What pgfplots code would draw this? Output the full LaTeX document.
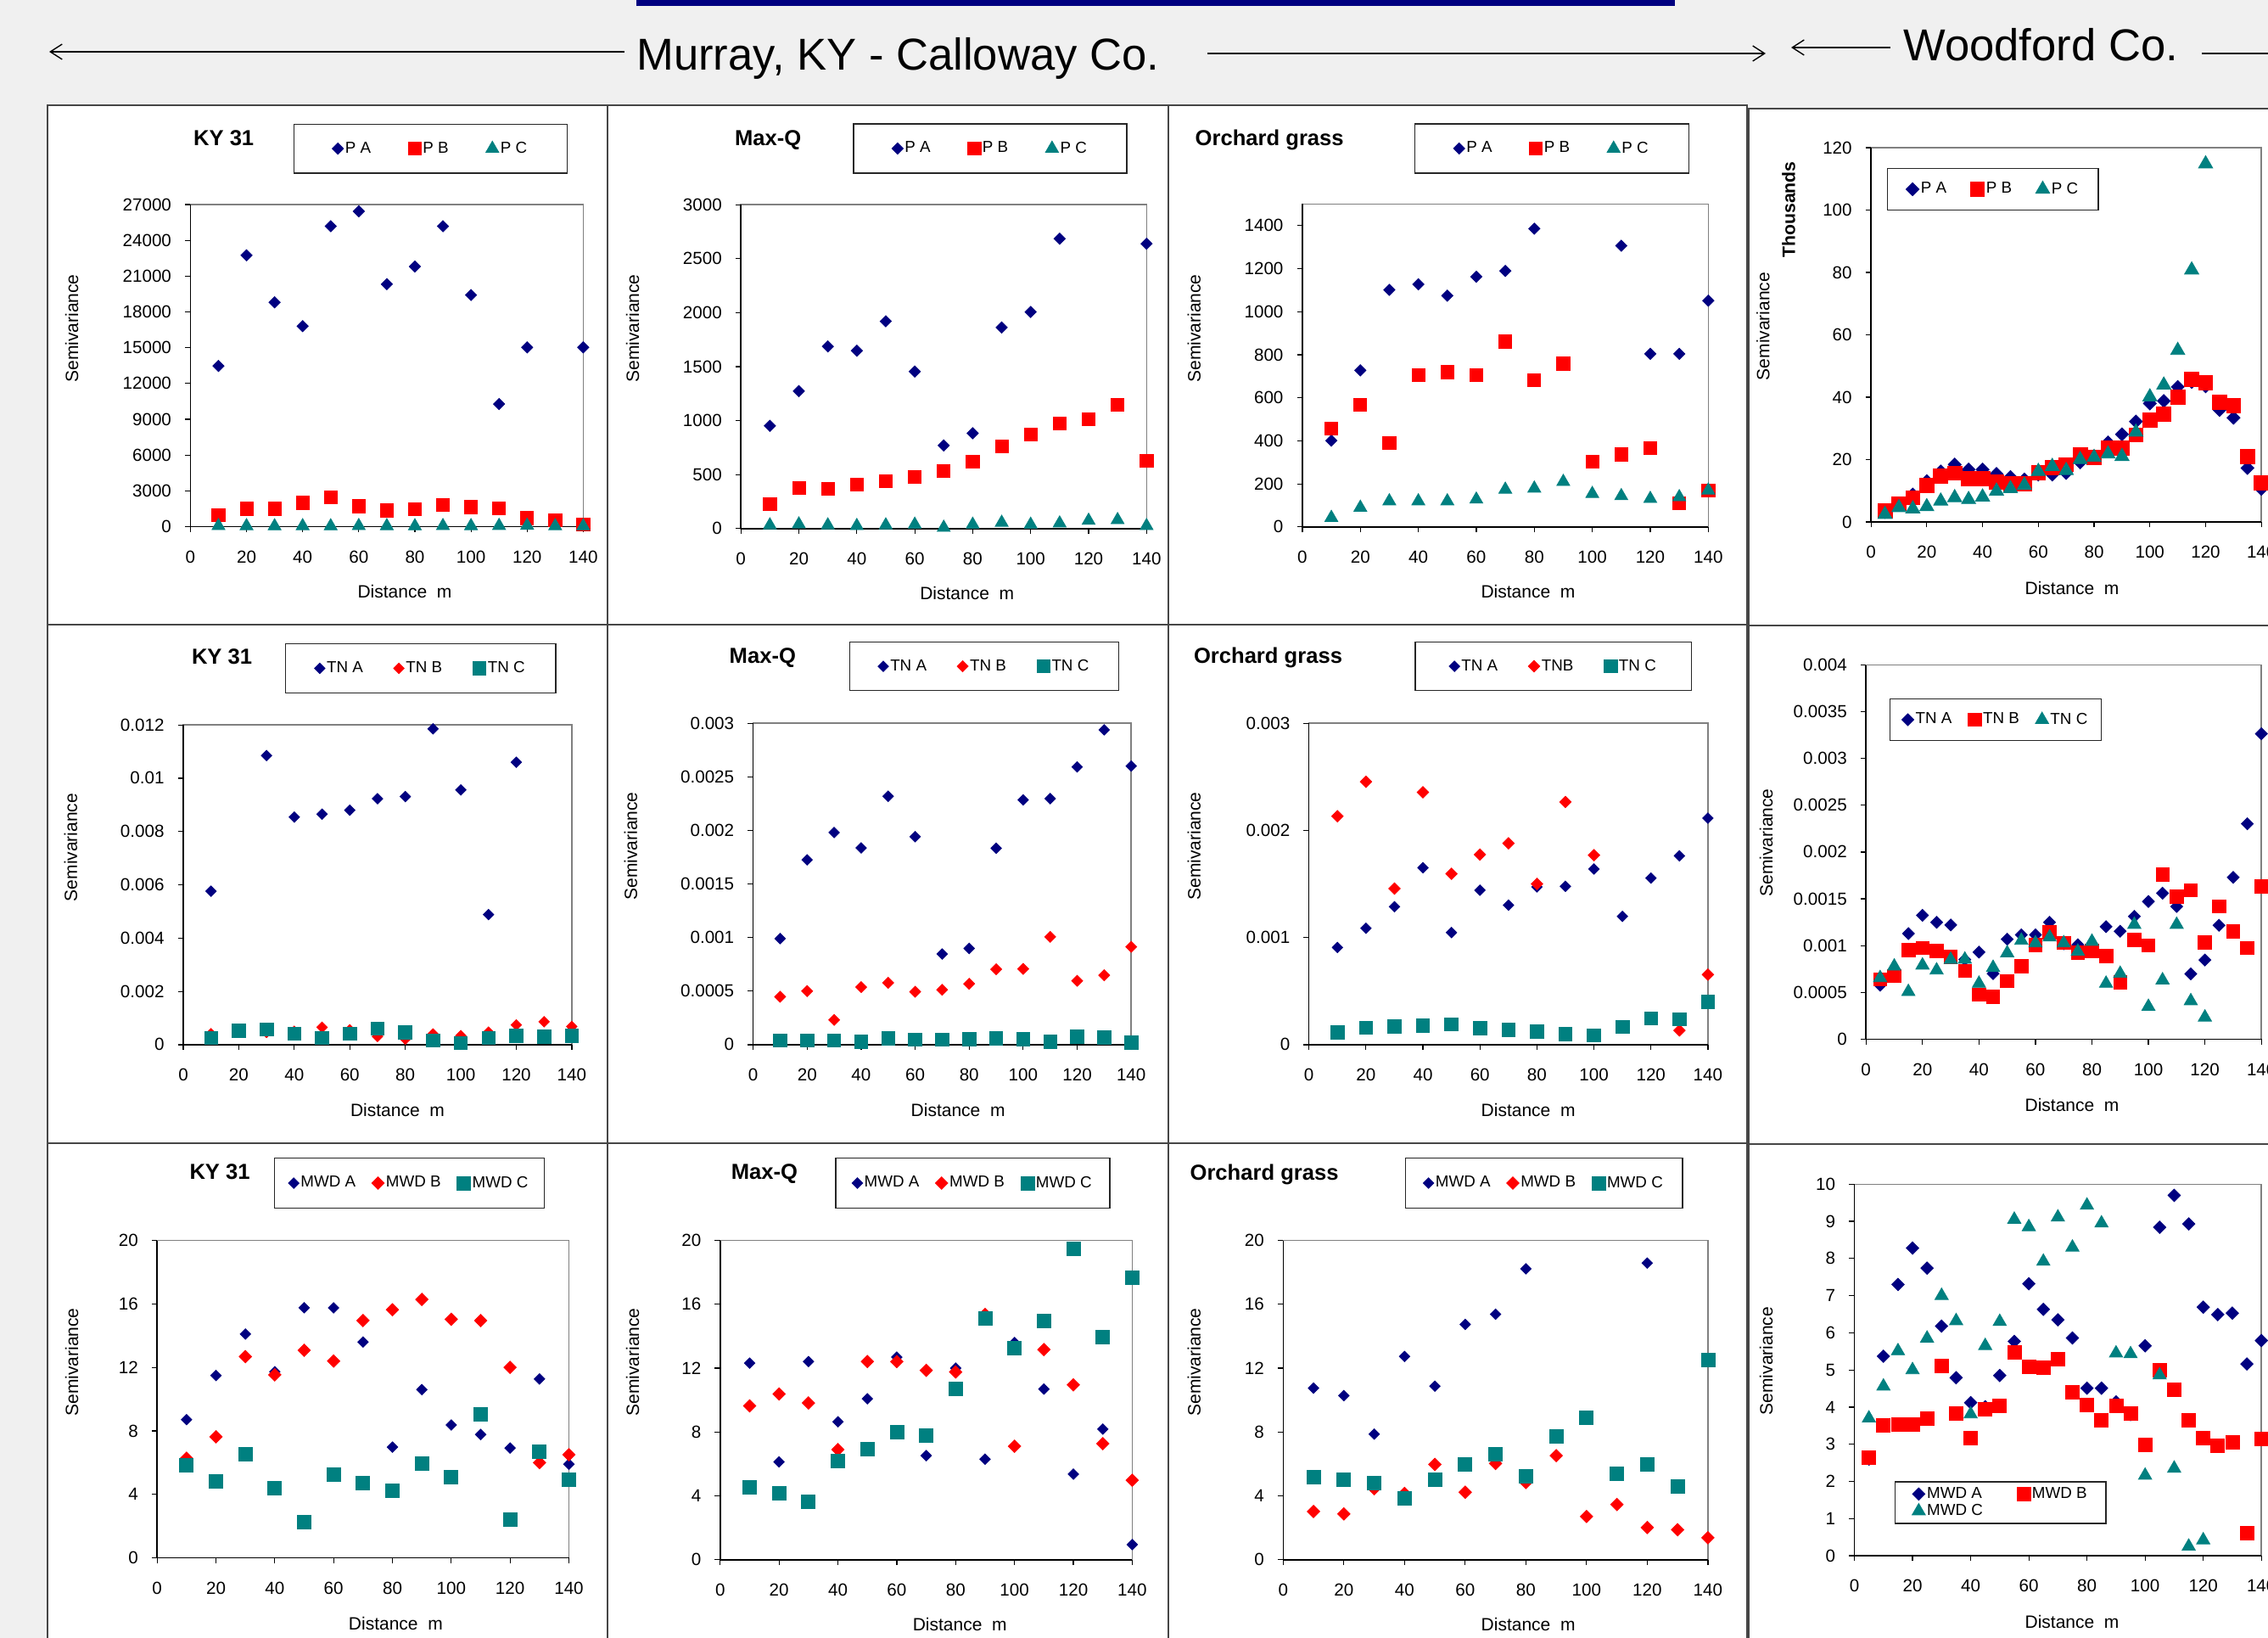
\documentclass[border=0pt]{standalone}
\usepackage{fontspec}
\setmainfont{Liberation Sans}
\usepackage{pgfplots}
\pgfplotsset{compat=1.18}
\usetikzlibrary{arrows.meta}
\definecolor{navyA}{RGB}{0,0,128}
\definecolor{redB}{RGB}{255,0,0}
\definecolor{tealC}{RGB}{0,128,128}
\definecolor{bgc}{RGB}{240,240,240}
\definecolor{framec}{RGB}{70,70,70}
\definecolor{plotborder}{RGB}{128,128,128}
\pgfplotsset{
  sv/.style={
    scale only axis, anchor=south west, clip=false,
    axis lines*=left,
    axis line style={black, line width=0.75pt},
    axis background/.style={fill=white, draw=plotborder, line width=0.75pt},
    xmin=0, xmax=140, xtick={0,20,...,140}, ymin=0,
    tick align=outside, major tick length=3.2pt,
    tick style={black, line width=0.6pt},
    scaled ticks=false,
    /pgf/number format/assume math mode=true,
    ticklabel style={font=\fontsize{10.3}{12}\selectfont, /pgf/number format/fixed, /pgf/number format/precision=4, /pgf/number format/1000 sep={}, /pgf/number format/assume math mode=true},
    xticklabel style={yshift=-7.5pt},
    yticklabel style={xshift=-4.5pt},
    legend style={draw=none, fill=none, anchor=center, font=\fontsize{9.4}{11}\selectfont, nodes={inner sep=1pt}, inner sep=0pt},
    legend cell align=left,
    legend image code/.code={\draw[mark repeat=2,mark phase=2,##1] plot coordinates {(-2pt,0pt)(0pt,0pt)(2pt,0pt)};},
  },
  mA/.style={only marks, color=navyA, mark=square*, mark size=2.35pt, mark options={rotate=45}},
  mBs/.style={only marks, color=redB, mark=square*, mark size=3.8pt},
  mBd/.style={only marks, color=redB, mark=square*, mark size=2.5pt, mark options={rotate=45}},
  mCt/.style={only marks, color=tealC, mark=triangle*, mark size=4.4pt},
  mCs/.style={only marks, color=tealC, mark=square*, mark size=3.9pt},
}
\begin{document}
\begin{tikzpicture}
\begin{scope}[x=0.5pt,y=-0.5pt]
\fill[bgc] (0,0) rectangle (2673,1930);
\foreach \x/\xx in {56/716,716/1377,1377/2059} {
  \foreach \y/\yy in {124/736,736/1347,1347/1980} {
    \filldraw[fill=white, draw=framec, line width=0.85pt] (\x,\y) rectangle (\xx,\yy);
  }
}
\filldraw[fill=white, draw=framec, line width=0.85pt] (2061,128) rectangle (2720,737);
\filldraw[fill=white, draw=framec, line width=0.85pt] (2061,737) rectangle (2720,1348);
\filldraw[fill=white, draw=framec, line width=0.85pt] (2061,1348) rectangle (2720,1980);
% header
\fill[navyA] (750,0) rectangle (1974,7);
\draw[line width=0.7pt, -{Straight Barb[length=7pt,width=9pt]}] (736,61) -- (58,61);
\draw[line width=0.7pt, -{Straight Barb[length=7pt,width=9pt]}] (1423,63) -- (2081,63);
\draw[line width=0.7pt, -{Straight Barb[length=7pt,width=9pt]}] (2228,56) -- (2111,56);
\draw[line width=0.7pt] (2595,63) -- (2700,63);
\node[anchor=base west, inner sep=0pt, font=\fontsize{26.3}{30}\selectfont] at (750,83) {Murray, KY - Calloway Co.};
\node[anchor=base west, inner sep=0pt, font=\fontsize{26.3}{30}\selectfont] at (2243,72) {Woodford Co.};
\end{scope}

%% ---------- Row 1 ----------
\begin{axis}[sv, at={(112.2pt,-310.25pt)}, width=231.5pt, height=189.7pt, ymax=27000, ytick={0,3000,...,27000},
  legend columns=3, legend style={at={(axis description cs:0.6112,1.1739)}, /tikz/every even column/.append style={column sep=21pt}}]
\addplot[mA] coordinates {(10,13470)(20,22750)(30,18810)(40,16810)(50,25190)(60,26440)(70,20330)(80,21810)(90,25190)(100,19420)(110,10280)(120,15030)(140,15030)};
\addlegendentry{P A}
\addplot[mBs] coordinates {(10,970)(20,1500)(30,1500)(40,2000)(50,2470)(60,1720)(70,1360)(80,1470)(90,1830)(100,1640)(110,1530)(120,720)(130,530)(140,190)};
\addlegendentry{P B}
\addplot[mCt] coordinates {(10,60)(20,50)(30,40)(40,50)(50,40)(60,60)(70,50)(80,40)(90,60)(100,50)(110,70)(120,90)(130,50)(140,40)};
\addlegendentry{P C}
\end{axis}

\begin{axis}[sv, at={(436.6pt,-311.4pt)}, width=239.05pt, height=190.85pt, ymax=3000, ytick={0,500,...,3000},
  legend columns=3, legend style={at={(axis description cs:0.6145,1.1732)}, /tikz/every even column/.append style={column sep=21pt}}]
\addplot[mA] coordinates {(10,951)(20,1273)(30,1687)(40,1647)(50,1920)(60,1454)(70,770)(80,883)(90,1862)(100,2006)(110,2684)(140,2638)};
\addlegendentry{P A}
\addplot[mBs] coordinates {(10,227)(20,374)(30,371)(40,408)(50,439)(60,479)(70,531)(80,620)(90,764)(100,874)(110,972)(120,1015)(130,1144)(140,629)};
\addlegendentry{P B}
\addplot[mCt] coordinates {(10,31)(20,40)(30,31)(40,25)(50,31)(60,37)(70,9)(80,37)(90,55)(100,37)(110,49)(120,74)(130,80)(140,25)};
\addlegendentry{P C}
\end{axis}

\begin{axis}[sv, at={(767.45pt,-310.45pt)}, width=239.2pt, height=190.3pt, ymax=1500, ytick={0,200,...,1400},
  legend columns=3, legend style={at={(axis description cs:0.6145,1.1716)}, /tikz/every even column/.append style={column sep=21pt}}]
\addplot[mA] coordinates {(10,401)(20,727)(30,1101)(40,1127)(50,1074)(60,1162)(70,1189)(80,1385)(110,1306)(120,804)(130,804)(140,1051)};
\addlegendentry{P A}
\addplot[mBs] coordinates {(10,457)(20,568)(30,391)(40,704)(50,719)(60,707)(70,861)(80,681)(90,759)(100,303)(110,337)(120,366)(130,110)(140,171)};
\addlegendentry{P B}
\addplot[mCt] coordinates {(10,43)(20,90)(30,120)(40,120)(50,120)(60,128)(70,174)(80,179)(90,210)(100,154)(110,144)(120,131)(130,139)(140,170)};
\addlegendentry{P C}
\end{axis}

\begin{axis}[sv, at={(1102.55pt,-307.5pt)}, width=230.05pt, height=220.5pt, ymax=120, ytick={0,20,...,120},
  legend columns=3, legend style={at={(axis description cs:0.3123,0.8889)}, /tikz/every even column/.append style={column sep=13pt}}]
\addplot[mA, mark size=2.7pt] coordinates {(5,3.2)(10,5.6)(15,8.8)(20,13.1)(25,16.2)(30,18.4)(35,16.8)(40,16.8)(45,15.4)(50,14.4)(55,13.6)(60,15.2)(65,15.2)(70,15.7)(75,19.1)(80,20.5)(85,25.5)(90,28.1)(95,32.2)(100,38.0)(105,38.8)(110,43.3)(115,44.9)(120,43.5)(125,35.9)(130,33.4)(135,17.3)(140,10.6)};
\addlegendentry{P A}
\addplot[mBs, mark size=4.2pt] coordinates {(5,3.5)(10,5.9)(15,7.8)(20,11.7)(25,14.7)(30,15.7)(35,13.9)(40,13.8)(45,12.8)(50,12.2)(55,12.3)(60,15.9)(65,17.5)(70,18.4)(75,21.6)(80,20.7)(85,23.7)(90,23.7)(95,27.9)(100,32.7)(105,34.6)(110,40.1)(115,45.7)(120,44.6)(125,38.3)(130,37.3)(135,21.0)(140,12.5)};
\addlegendentry{P B}
\addplot[mCt, mark size=4.8pt] coordinates {(5,2.4)(10,4.6)(15,4.2)(20,4.9)(25,6.7)(30,7.8)(35,7.2)(40,8.0)(45,9.9)(50,10.7)(55,11.8)(60,16.2)(65,17.8)(70,16.5)(75,20.0)(80,20.7)(85,21.8)(90,21.0)(95,28.8)(100,40.1)(105,43.9)(110,55.0)(115,80.8)(120,114.8)};
\addlegendentry{P C}
\end{axis}

%% ---------- Row 2 ----------
\begin{axis}[sv, at={(108pt,-615.45pt)}, width=228.95pt, height=188.4pt, ymax=0.012, ytick={0,0.002,0.004,0.006,0.008,0.01,0.012},
  legend columns=3, legend style={at={(axis description cs:0.6108,1.1768)}, /tikz/every even column/.append style={column sep=17pt}}]
\addplot[mA, mark size=2.2pt] coordinates {(10,0.00576)(30,0.01085)(40,0.00854)(50,0.00865)(60,0.0088)(70,0.00923)(80,0.00931)(90,0.01185)(100,0.00956)(110,0.00488)(120,0.0106)};
\addlegendentry{TN A}
\addplot[mBd, mark size=2.2pt] coordinates {(10,0.00041)(20,0.0005)(30,0.00046)(40,0.0005)(50,0.00065)(60,0.00056)(70,0.00031)(80,0.00021)(90,0.0004)(100,0.00034)(110,0.00047)(120,0.00074)(130,0.00086)(140,0.00068)};
\addlegendentry{TN B}
\addplot[mCs] coordinates {(10,0.00025)(20,0.00052)(30,0.00057)(40,0.00042)(50,0.00025)(60,0.00041)(70,0.0006)(80,0.00047)(90,0.00016)(100,0.00006)(110,0.00025)(120,0.00034)(130,0.00031)(140,0.00034)};
\addlegendentry{TN C}
\end{axis}

\begin{axis}[sv, at={(443.8pt,-615.45pt)}, width=222.8pt, height=189.4pt, ymax=0.003, ytick={0,0.0005,0.001,0.0015,0.002,0.0025,0.003},
  legend columns=3, legend style={at={(axis description cs:0.6115,1.1769)}, /tikz/every even column/.append style={column sep=17pt}}]
\addplot[mA, mark size=2.2pt] coordinates {(10,0.00099)(20,0.001725)(30,0.00198)(40,0.001836)(50,0.002318)(60,0.001941)(70,0.000846)(80,0.000898)(90,0.001833)(100,0.002284)(110,0.002296)(120,0.002592)(130,0.002938)(140,0.0026)};
\addlegendentry{TN A}
\addplot[mBd, mark size=2.3pt] coordinates {(10,0.000447)(20,0.0005)(30,0.000231)(40,0.000537)(50,0.000577)(60,0.000494)(70,0.000512)(80,0.000568)(90,0.000704)(100,0.000707)(110,0.001006)(120,0.000596)(130,0.000648)(140,0.000913)};
\addlegendentry{TN B}
\addplot[mCs] coordinates {(10,0.00004)(20,0.00004)(30,0.00004)(40,0.00003)(50,0.00006)(60,0.000046)(70,0.000046)(80,0.00005)(90,0.00006)(100,0.000052)(110,0.000028)(120,0.000077)(130,0.000065)(140,0.000022)};
\addlegendentry{TN C}
\end{axis}

\begin{axis}[sv, at={(771.35pt,-615.45pt)}, width=235.1pt, height=189.4pt, ymax=0.003, ytick={0,0.001,0.002,0.003},
  legend columns=3, legend style={at={(axis description cs:0.6129,1.1769)}, /tikz/every even column/.append style={column sep=17pt}}]
\addplot[mA, mark size=2.2pt] coordinates {(10,0.000907)(20,0.001086)(30,0.001287)(40,0.001651)(50,0.001046)(60,0.001441)(70,0.001302)(80,0.001472)(90,0.001478)(100,0.001639)(110,0.001197)(120,0.001555)(130,0.001762)(140,0.002114)};
\addlegendentry{TN A}
\addplot[mBd, mark size=2.4pt] coordinates {(10,0.002132)(20,0.002453)(30,0.001457)(40,0.002355)(50,0.001595)(60,0.001774)(70,0.001879)(80,0.0015)(90,0.002265)(100,0.001768)(130,0.000133)(140,0.000654)};
\addlegendentry{TNB}
\addplot[mCs] coordinates {(10,0.000114)(20,0.00016)(30,0.00017)(40,0.000176)(50,0.000191)(60,0.000154)(70,0.000139)(80,0.000123)(90,0.000099)(100,0.000086)(110,0.000167)(120,0.000247)(130,0.000238)(140,0.000401)};
\addlegendentry{TN C}
\end{axis}

\begin{axis}[sv, at={(1099.6pt,-612.15pt)}, width=233pt, height=220.4pt, ymax=0.004, ytick={0,0.0005,0.001,0.0015,0.002,0.0025,0.003,0.0035,0.004},
  legend columns=3, legend style={at={(axis description cs:0.3277,0.8537)}, /tikz/every even column/.append style={column sep=8.5pt}}]
\addplot[mA, mark size=2.5pt] coordinates {(5,0.000576)(10,0.00067)(15,0.001128)(20,0.001323)(25,0.001248)(30,0.00122)(35,0.00085)(40,0.00093)(45,0.0007)(50,0.001068)(55,0.001114)(60,0.001114)(65,0.001248)(70,0.001019)(75,0.001008)(80,0.00098)(85,0.001202)(90,0.001153)(95,0.001312)(100,0.001471)(105,0.00156)(110,0.001418)(115,0.000697)(120,0.000845)(125,0.001217)(130,0.001729)(135,0.002302)(140,0.003264)};
\addlegendentry{TN A}
\addplot[mBs, mark size=3.9pt] coordinates {(5,0.00064)(10,0.000676)(15,0.000951)(20,0.000976)(25,0.000941)(30,0.000877)(35,0.000729)(40,0.000477)(45,0.000453)(50,0.000619)(55,0.000778)(60,0.001008)(65,0.001142)(70,0.001029)(75,0.000923)(80,0.000941)(85,0.000888)(90,0.000605)(95,0.001061)(100,0.001001)(105,0.001761)(110,0.001521)(115,0.001592)(120,0.001036)(125,0.001418)(130,0.001149)(135,0.000973)(140,0.00163)};
\addlegendentry{TN B}
\addplot[mCt, mark size=4.5pt] coordinates {(5,0.000654)(10,0.000778)(15,0.000506)(20,0.000789)(25,0.000736)(30,0.000849)(35,0.000852)(40,0.000594)(45,0.000764)(50,0.00092)(55,0.001054)(60,0.001026)(65,0.001089)(70,0.001026)(75,0.000937)(80,0.001043)(85,0.000594)(90,0.0007)(95,0.001224)(100,0.000347)(105,0.00063)(110,0.001224)(115,0.000407)(120,0.000233)};
\addlegendentry{TN C}
\end{axis}

%% ---------- Row 3 ----------
\begin{axis}[sv, at={(92.6pt,-917.8pt)}, width=242.65pt, height=187.05pt, ymax=20, ytick={0,4,...,20},
  legend columns=3, legend style={at={(axis description cs:0.612,1.1804)}, /tikz/every even column/.append style={column sep=8.5pt}}]
\addplot[mA, mark size=2.2pt] coordinates {(10,8.71)(20,11.49)(30,14.1)(40,11.73)(50,15.76)(60,15.75)(70,13.6)(80,6.98)(90,10.6)(100,8.37)(110,7.77)(120,6.92)(130,11.27)(140,5.9)};
\addlegendentry{MWD A}
\addplot[mBd, mark size=2.6pt] coordinates {(10,6.28)(20,7.63)(30,12.68)(40,11.53)(50,13.08)(60,12.4)(70,14.95)(80,15.63)(90,16.28)(100,15.03)(110,14.95)(120,12.0)(130,6.0)(140,6.5)};
\addlegendentry{MWD B}
\addplot[mCs, mark size=4.0pt] coordinates {(10,5.84)(20,4.81)(30,6.54)(40,4.39)(50,2.27)(60,5.23)(70,4.71)(80,4.23)(90,5.92)(100,5.09)(110,9.05)(120,2.43)(130,6.7)(140,4.93)};
\addlegendentry{MWD C}
\end{axis}

\begin{axis}[sv, at={(424.4pt,-918.9pt)}, width=242.8pt, height=188.15pt, ymax=20, ytick={0,4,...,20},
  legend columns=3, legend style={at={(axis description cs:0.613,1.1794)}, /tikz/every even column/.append style={column sep=8.5pt}}]
\addplot[mA, mark size=2.2pt] coordinates {(10,12.31)(20,6.13)(30,12.41)(40,8.64)(50,10.08)(60,12.69)(70,6.52)(80,12.0)(90,6.3)(100,13.6)(110,10.69)(120,5.36)(130,8.18)(140,0.95)};
\addlegendentry{MWD A}
\addplot[mBd, mark size=2.6pt] coordinates {(10,9.64)(20,10.38)(30,9.82)(40,6.9)(50,12.41)(60,12.41)(70,11.86)(80,11.76)(90,15.36)(100,7.11)(110,13.16)(120,10.95)(130,7.27)(140,4.98)};
\addlegendentry{MWD B}
\addplot[mCs, mark size=4.0pt] coordinates {(10,4.55)(20,4.15)(30,3.62)(40,6.17)(50,6.92)(60,8.02)(70,7.77)(80,10.73)(90,15.1)(100,13.24)(110,14.98)(120,19.47)(130,13.97)(140,17.67)};
\addlegendentry{MWD C}
\end{axis}

\begin{axis}[sv, at={(756.15pt,-918.9pt)}, width=250.3pt, height=188.15pt, ymax=20, ytick={0,4,...,20},
  legend columns=3, legend style={at={(axis description cs:0.6139,1.1794)}, /tikz/every even column/.append style={column sep=8.5pt}}]
\addplot[mA, mark size=2.2pt] coordinates {(10,10.75)(20,10.28)(30,7.87)(40,12.73)(50,10.87)(60,14.74)(70,15.38)(80,18.22)(120,18.58)};
\addlegendentry{MWD A}
\addplot[mBd, mark size=2.6pt] coordinates {(10,3.02)(20,2.87)(30,4.45)(40,4.15)(50,5.97)(60,4.23)(70,6.03)(80,4.84)(90,6.52)(100,2.71)(110,3.46)(120,2.02)(130,1.88)(140,1.38)};
\addlegendentry{MWD B}
\addplot[mCs, mark size=4.0pt] coordinates {(10,5.18)(20,5.02)(30,4.8)(40,3.85)(50,5.0)(60,5.99)(70,6.62)(80,5.24)(90,7.71)(100,8.89)(110,5.4)(120,5.97)(130,4.57)(140,12.49)};
\addlegendentry{MWD C}
\end{axis}

\begin{axis}[sv, at={(1092.75pt,-916.5pt)}, width=239.85pt, height=218.85pt, ymax=10, ytick={0,1,...,10},
  legend columns=2, legend style={at={(axis description cs:0.3588,0.1428)}, /tikz/every even column/.append style={column sep=19pt}}]
\addplot[mA, mark size=2.6pt] coordinates {(5,2.6)(10,5.37)(15,7.3)(20,8.28)(25,7.74)(30,6.18)(35,4.79)(40,4.12)(45,4.01)(50,4.85)(55,5.77)(60,7.32)(65,6.63)(70,6.35)(75,5.86)(80,4.51)(85,4.51)(90,4.14)(95,3.8)(100,5.65)(105,8.84)(110,9.7)(115,8.93)(120,6.69)(125,6.49)(130,6.53)(135,5.16)(140,5.79)};
\addlegendentry{MWD A}
\addplot[mBs, mark size=4.0pt] coordinates {(5,2.63)(10,3.52)(15,3.54)(20,3.54)(25,3.69)(30,5.11)(35,3.82)(40,3.16)(45,3.95)(50,4.03)(55,5.47)(60,5.08)(65,5.06)(70,5.29)(75,4.41)(80,4.05)(85,3.65)(90,4.04)(95,3.83)(100,2.99)(105,4.99)(110,4.48)(115,3.64)(120,3.16)(125,2.97)(130,3.05)(135,0.61)(140,3.14)};
\addlegendentry{MWD B}
\addplot[mCt, mark size=4.5pt] coordinates {(5,3.7)(10,4.56)(15,5.51)(20,5.0)(25,5.85)(30,7.0)(35,6.32)(40,3.81)(45,5.65)(50,6.3)(55,9.05)(60,8.85)(65,7.92)(70,9.11)(75,8.3)(80,9.43)(85,8.95)(90,5.45)(95,5.43)(100,2.16)(105,4.86)(110,2.35)(115,0.25)(120,0.42)};
\addlegendentry{MWD C}
\end{axis}

\begin{scope}[x=0.5pt,y=-0.5pt]
% titles
\tikzset{ttl/.style={anchor=base west, inner sep=0pt, font=\bfseries\fontsize{12.8}{14}\selectfont}}
\node[ttl] at (227.7,171.5) {KY 31};
\node[ttl] at (865.6,171.5) {Max-Q};
\node[ttl] at (1408.3,171.5) {Orchard grass};
\node[ttl] at (225.6,782.5) {KY 31};
\node[ttl] at (859.3,781.6) {Max-Q};
\node[ttl] at (1406.6,781.6) {Orchard grass};
\node[ttl] at (223.1,1389.8) {KY 31};
\node[ttl] at (861.4,1389.8) {Max-Q};
\node[ttl] at (1402.2,1390.5) {Orchard grass};
\node[rotate=90, anchor=center, inner sep=0pt, font=\bfseries\fontsize{10.6}{12}\selectfont] at (2108,247) {Thousands};
% y labels
\tikzset{yl/.style={rotate=90, anchor=center, inner sep=0pt, font=\fontsize{10.5}{12}\selectfont}}
\node[yl] at (84.6,387) {Semivariance};
\node[yl] at (745.5,387) {Semivariance};
\node[yl] at (1407.4,387) {Semivariance};
\node[yl] at (2077.8,384.5) {Semivariance};
\node[yl] at (83.4,998.5) {Semivariance};
\node[yl] at (743.4,997) {Semivariance};
\node[yl] at (1407.4,997) {Semivariance};
\node[yl] at (2081.7,993) {Semivariance};
\node[yl] at (84.6,1605) {Semivariance};
\node[yl] at (745.5,1605) {Semivariance};
\node[yl] at (1407.4,1605) {Semivariance};
\node[yl] at (2081.7,1603.6) {Semivariance};
% x labels
\tikzset{xl/.style={anchor=base, inner sep=0pt, font=\fontsize{10.5}{12}\selectfont}}
\node[xl] at (477,704.8) {Distance~~m};
\node[xl] at (1139.7,706.4) {Distance~~m};
\node[xl] at (1801,704.8) {Distance~~m};
\node[xl] at (2442,700.9) {Distance~~m};
\node[xl] at (468.5,1315.9) {Distance~~m};
\node[xl] at (1129.1,1315.9) {Distance~~m};
\node[xl] at (1801.1,1315.9) {Distance~~m};
\node[xl] at (2442,1309.7) {Distance~~m};
\node[xl] at (466.4,1920.3) {Distance~~m};
\node[xl] at (1131.2,1921.5) {Distance~~m};
\node[xl] at (1801.1,1921.5) {Distance~~m};
\node[xl] at (2442,1918.9) {Distance~~m};
% legend frames
\tikzset{lf/.style={draw=black!85, line width=0.6pt}}
\draw[lf] (346.4,146.2) rectangle (668.4,204);
\draw[lf] (1006,146) rectangle (1328,204);
\draw[lf] (1667.5,146) rectangle (1990.3,204);
\draw[lf] (2224.6,198.2) rectangle (2472.9,247.7);
\draw[lf] (336.3,758.2) rectangle (655,816.7);
\draw[lf] (1001.4,756.3) rectangle (1318.8,813.9);
\draw[lf] (1668,756.3) rectangle (1993.8,813.9);
\draw[lf] (2227.4,823.7) rectangle (2476.4,872.4);
\draw[lf] (323.3,1364.8) rectangle (641.1,1423.2);
\draw[lf] (985,1364.8) rectangle (1307.9,1423.2);
\draw[lf] (1656.2,1364.8) rectangle (1982.9,1423.2);
\draw[lf] (2233.3,1746) rectangle (2481.9,1795);
\end{scope}
\pgfresetboundingbox
\path[use as bounding box] (0pt,0pt) rectangle (1336.5pt,-965pt);
\end{tikzpicture}
\end{document}
